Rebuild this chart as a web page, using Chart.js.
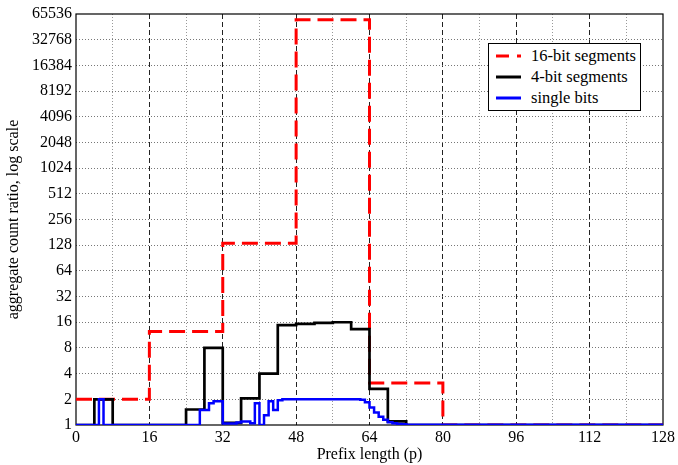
<!DOCTYPE html>
<html><head><meta charset="utf-8">
<script src="https://cdn.jsdelivr.net/npm/chart.js@4/dist/chart.umd.min.js"></script>
<style>
html,body{margin:0;padding:0;background:#fff;}
#wrap{position:relative;width:678px;height:465px;}
canvas{display:block;}
#legend{position:absolute;left:488px;top:43px;width:153px;height:68px;border:1px solid #000;background:#fff;font-family:"Liberation Serif","Times New Roman",serif;font-size:16.5px;box-sizing:border-box;color:#000;}
.item{position:absolute;left:0;height:20px;display:flex;align-items:center;white-space:nowrap;}
.item svg{margin-left:7px;margin-right:10px;}
</style></head>
<body><div id="wrap"><canvas id="c" width="678" height="465"></canvas>
<div id="legend">
 <div class="item" style="top:2px"><svg width="25" height="6"><line x1="0" y1="3" x2="25" y2="3" stroke="#ff0000" stroke-width="3" stroke-dasharray="13,8"/></svg><span>16-bit segments</span></div>
 <div class="item" style="top:23px"><svg width="25" height="6"><line x1="0" y1="3" x2="25" y2="3" stroke="#000" stroke-width="3"/></svg><span>4-bit segments</span></div>
 <div class="item" style="top:44px"><svg width="25" height="6"><line x1="0" y1="3" x2="25" y2="3" stroke="#0000ff" stroke-width="3"/></svg><span>single bits</span></div>
</div></div>
<script>
// 16-bit segments (step starts)
const redX = [0, 16, 32, 48, 64, 80, 128];
const redY = [2, 12.5, 135, 56000, 3.1, 1, 1];
// 4-bit segments (step starts)
const blackX = [0, 4, 8, 24, 28, 32, 36, 40, 44, 48, 52, 56, 60, 64, 68, 72, 128];
const blackY = [1, 2, 1, 1.52, 8, 1.06, 2.05, 4, 14.8, 15.3, 15.7, 16, 13.3, 2.65, 1.1, 1, 1];
// single bits (step starts)
const blueX = [0, 5, 6, 27, 29, 30, 32, 35, 36, 38, 39, 40, 41, 42, 43, 44, 45, 62, 63, 64, 65, 66, 67, 68, 69, 70, 71, 72, 128];
const blueY = [1, 2, 1, 1.5, 1.8, 1.9, 1.04, 1.07, 1.1, 1.05, 1.8, 1.0, 1.3, 1.9, 1.5, 1.95, 2.0, 1.97, 1.85, 1.6, 1.4, 1.25, 1.15, 1.08, 1.05, 1.03, 1.02, 1.01, 1.01];
const yTicks = [1, 2, 4, 8, 16, 32, 64, 128, 256, 512, 1024, 2048, 4096, 8192, 16384, 32768, 65536];
const xMin = 0, xMax = 128, xStep = 8, xLabelStep = 16;

const pts = (xs, ys) => xs.map((x, i) => ({x: x, y: ys[i]}));
const font = {family: "'Liberation Serif','Times New Roman',serif", size: 16};

const frame = {
  id: 'frame',
  beforeDatasetsDraw(chart) {
    const {ctx, chartArea: a} = chart;
    ctx.save();
    ctx.strokeStyle = '#000';
    ctx.lineWidth = 1.2;
    ctx.strokeRect(a.left, a.top, a.right - a.left, a.bottom - a.top);
    ctx.restore();
  }
};

new Chart(document.getElementById('c'), {
  type: 'line',
  data: {
    datasets: [
      {label: 'single bits', data: pts(blueX, blueY), borderColor: '#0000ff', borderWidth: 2.5, stepped: true, pointRadius: 0, fill: false},
      {label: '4-bit segments', data: pts(blackX, blackY), borderColor: '#000000', borderWidth: 2.7, stepped: true, pointRadius: 0, fill: false},
      {label: '16-bit segments', data: pts(redX, redY), borderColor: '#ff0000', borderWidth: 3, borderDash: [16, 7], stepped: true, pointRadius: 0, fill: false}
    ]
  },
  options: {
    responsive: false,
    animation: false,
    layout: {padding: {top: 14, right: 15, left: 0, bottom: 0}},
    plugins: {legend: {display: false}, tooltip: {enabled: false}},
    scales: {
      x: {
        type: 'linear', min: xMin, max: xMax,
        afterFit: s => { s.height = 40; },
        ticks: {stepSize: xStep, autoSkip: false, maxRotation: 0, padding: 3, font: font, color: '#000',
          callback: v => (v % xLabelStep === 0 ? String(v) : '')},
        grid: {drawTicks: false, lineWidth: 1,
          color: c => { const v = c.tick ? c.tick.value : null; if (v === xMin || v === xMax) return 'rgba(0,0,0,0)'; return v % xLabelStep === 0 ? '#222' : '#999'; }},
        border: {display: false, dash: c => (c.tick ? (c.tick.value % xLabelStep === 0 ? [5, 3] : [1, 2]) : [])},
        title: {display: true, text: 'Prefix length (p)', font: font, color: '#000', padding: {top: 0, bottom: 1}}
      },
      y: {
        type: 'logarithmic', min: 1, max: 65536,
        afterBuildTicks: s => { s.ticks = yTicks.map(v => ({value: v})); },
        afterFit: s => { s.width = 76; },
        ticks: {autoSkip: false, padding: 4, font: font, color: '#000', callback: v => String(v)},
        grid: {drawTicks: false, lineWidth: 1,
          color: c => { const v = c.tick ? c.tick.value : null; return (v === 1 || v === 65536) ? 'rgba(0,0,0,0)' : '#777'; }},
        border: {display: false, dash: [1, 2]},
        title: {display: true, text: 'aggregate count ratio, log scale', font: font, color: '#000', padding: {top: 4, bottom: 0}}
      }
    }
  },
  plugins: [frame]
});
</script>
</body></html>
